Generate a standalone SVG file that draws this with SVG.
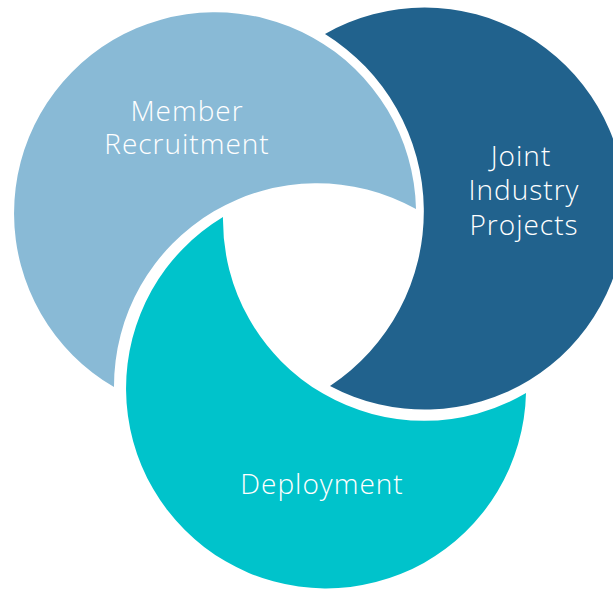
<svg xmlns="http://www.w3.org/2000/svg" width="613" height="590" viewBox="0 0 613 590">
  <style>
    .lbl { font-family: "Open Sans", Lato, "Liberation Sans", sans-serif; font-size: 28px; font-weight: 300; letter-spacing: 1px; fill: #ffffff; text-anchor: middle; }
  </style>
  <rect width="613" height="590" fill="#ffffff"/>
  <g id="member-recruitment">
    <path d="M 416 209 A 201 201 0 1 0 114 387 A 203 203 0 0 1 416 209 Z" fill="#89BAD6"/>
    <text class="lbl" x="187" y="121">Member<tspan x="187" y="154">Recruitment</tspan></text>
  </g>
  <g id="joint-industry-projects">
    <path d="M 325 34 A 201 201 0 1 1 330 386 A 209 209 0 0 0 325 34 Z" fill="#21628D"/>
    <text class="lbl" x="521" y="166">Joint<tspan x="524" y="200">Industry</tspan><tspan x="524" y="235">Projects</tspan></text>
  </g>
  <g id="deployment">
    <path d="M 223 217 A 200 200 0 1 0 526 393 A 201 201 0 0 1 223 217 Z" fill="#00C3CB"/>
    <text class="lbl" x="322" y="494">Deployment</text>
  </g>
  <g id="connectors"></g>
</svg>
